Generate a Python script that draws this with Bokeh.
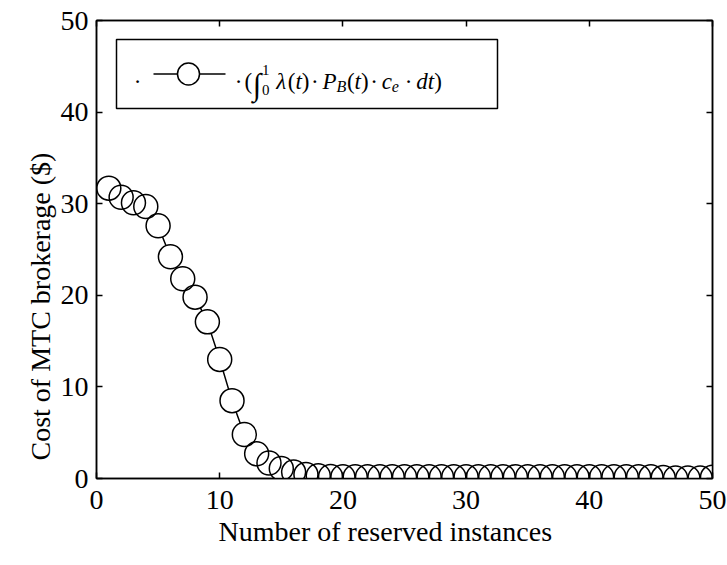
from bokeh.plotting import figure
from bokeh.models import LinearAxis, Range1d, Label, FixedTicker, CustomJSTickFormatter, Title
from bokeh.embed import file_html
from bokeh.resources import INLINE

# ---- data -------------------------------------------------------------
reserved_instances = list(range(1, 51))
brokerage_cost = [
    31.7, 30.7, 30.1, 29.7, 27.6, 24.2, 21.8, 19.8, 17.1, 13.0,
    8.5, 4.8, 2.7, 1.7, 1.1, 0.7, 0.45, 0.3, 0.22, 0.2,
    0.2, 0.2, 0.2, 0.2, 0.2, 0.2, 0.2, 0.2, 0.2, 0.2,
    0.2, 0.2, 0.2, 0.2, 0.2, 0.2, 0.2, 0.2, 0.2, 0.2,
    0.2, 0.2, 0.2, 0.2, 0.18, 0.1, 0.05, 0.05, 0.05, 0.15,
]
x_ticks = [0, 10, 20, 30, 40, 50]
y_ticks = [0, 10, 20, 30, 40, 50]
x_label = "Number of reserved instances"
y_label = "Cost of MTC brokerage ($)"

# ---- layout constants (pixels) -----------------------------------------
FRAME_L, FRAME_R, FRAME_T, FRAME_B = 96, 712, 20, 478
W, H = 727, 565
X_MAX, Y_MAX = 50, 50
SERIF = "Liberation Serif"


def px_x(px):
    return (px - FRAME_L) / (FRAME_R - FRAME_L) * X_MAX


def px_y(py):
    return (FRAME_B - py) / (FRAME_B - FRAME_T) * Y_MAX


p = figure(
    frame_width=FRAME_R - FRAME_L, frame_height=FRAME_B - FRAME_T,
    min_border_left=FRAME_L, min_border_right=W - FRAME_R,
    min_border_top=FRAME_T, min_border_bottom=H - FRAME_B,
    x_range=Range1d(0, X_MAX), y_range=Range1d(0, Y_MAX),
    output_backend="svg", toolbar_location=None,
)
p.grid.visible = False
p.outline_line_color = "black"
p.outline_line_width = 1.5
p.background_fill_color = "white"
p.border_fill_color = "white"

p.xaxis.ticker = FixedTicker(ticks=x_ticks)
p.yaxis.ticker = FixedTicker(ticks=y_ticks)
for ax in (p.xaxis[0], p.yaxis[0]):
    ax.axis_line_width = 1.5
    ax.major_tick_in = 6
    ax.major_tick_out = 0
    ax.major_tick_line_width = 1.5
    ax.minor_tick_line_color = None
    ax.major_label_text_font = SERIF
    ax.major_label_text_font_size = "28px"
    ax.major_label_text_color = "black"
p.xaxis.major_label_standoff = 12
p.yaxis.major_label_standoff = 8

# mirrored tick marks on the top and right edges of the box
blank = CustomJSTickFormatter(code="return ''")
for side, ticks in (("above", x_ticks), ("right", y_ticks)):
    mirror = LinearAxis(
        ticker=FixedTicker(ticks=ticks), formatter=blank,
        axis_line_width=1.5, major_tick_in=6, major_tick_out=0,
        major_tick_line_width=1.5, minor_tick_line_color=None,
        major_label_standoff=0, major_label_text_font_size="1px",
    )
    p.add_layout(mirror, side)

# axis titles, set slightly towards the origin
p.add_layout(Title(
    text=x_label, align="left", offset=122, standoff=4,
    text_font=SERIF, text_font_size="28px", text_font_style="normal",
    text_color="black",
), "below")
p.add_layout(Title(
    text=y_label, align="left", offset=18, standoff=4,
    text_font=SERIF, text_font_size="28px", text_font_style="normal",
    text_color="black",
), "left")

# ---- series: line hidden inside the open circle markers -----------------
MARKER = 24
p.line(reserved_instances, brokerage_cost, line_color="black", line_width=1.5)
p.scatter(reserved_instances, brokerage_cost, marker="circle", size=MARKER,
          fill_color="white", line_color=None)
p.scatter(reserved_instances, brokerage_cost, marker="circle", size=MARKER,
          fill_color=None, line_color="black", line_width=1.5)

# ---- legend box -------------------------------------------------------
LEG_L, LEG_R, LEG_T, LEG_B = 116, 497, 39, 108
LEG_MID = 73.5
p.quad(left=[px_x(LEG_L)], right=[px_x(LEG_R)], top=[px_y(LEG_T)], bottom=[px_y(LEG_B)],
       fill_color="white", line_color="black", line_width=1.5)
p.line([px_x(153), px_x(225)], [px_y(LEG_MID)] * 2, line_color="black", line_width=1.5)
p.scatter([px_x(188)], [px_y(LEG_MID)], marker="circle", size=22,
          fill_color="white", line_color="black", line_width=1.5)

F = 23  # legend math font size
BASE = 80.5  # legend text baseline (px from top)


def put(txt, cx, dy_em=0.0, scale=1.0, style="normal", align="left"):
    p.add_layout(Label(
        x=px_x(cx), y=px_y(BASE + dy_em * F), text=txt,
        text_font=SERIF, text_font_style=style,
        text_font_size=f"{F * scale:.1f}px", text_color="black",
        text_align=align, text_baseline="alphabetic",
    ))


put("\u00b7", 137, align="center")
put("\u00b7", 238, align="center")

# (text, style, scale, vertical offset in em, advance in em)
formula = [
    ("(", "normal", 1.0, 0.0, 0.36),
    ("\u222b", "normal", 1.35, 0.14, 0.40),
    ("1", "normal", 0.65, -0.5, 0.0),
    ("0", "normal", 0.65, 0.38, 0.62),
    ("\u03bb", "italic", 1.0, 0.0, 0.5),
    ("(", "normal", 1.0, 0.0, 0.333),
    ("t", "italic", 1.0, 0.0, 0.278),
    (")", "normal", 1.0, 0.0, 0.40),
    ("\u00b7", "normal", 1.0, 0.0, 0.50),
    ("P", "italic", 1.0, 0.0, 0.611),
    ("B", "italic", 0.7, 0.22, 0.45),
    ("(", "normal", 1.0, 0.0, 0.333),
    ("t", "italic", 1.0, 0.0, 0.278),
    (")", "normal", 1.0, 0.0, 0.40),
    ("\u00b7", "normal", 1.0, 0.0, 0.50),
    ("c", "italic", 1.0, 0.0, 0.444),
    ("e", "italic", 0.7, 0.22, 0.56),
    ("\u00b7", "normal", 1.0, 0.0, 0.50),
    ("d", "italic", 1.0, 0.0, 0.5),
    ("t", "italic", 1.0, 0.0, 0.278),
    (")", "normal", 1.0, 0.0, 0.333),
]
cursor = 244.0
for txt, style, scale, dy, adv in formula:
    put(txt, cursor, dy_em=dy, scale=scale, style=style)
    cursor += adv * F

open("out.html", "w").write(file_html(p, INLINE))
